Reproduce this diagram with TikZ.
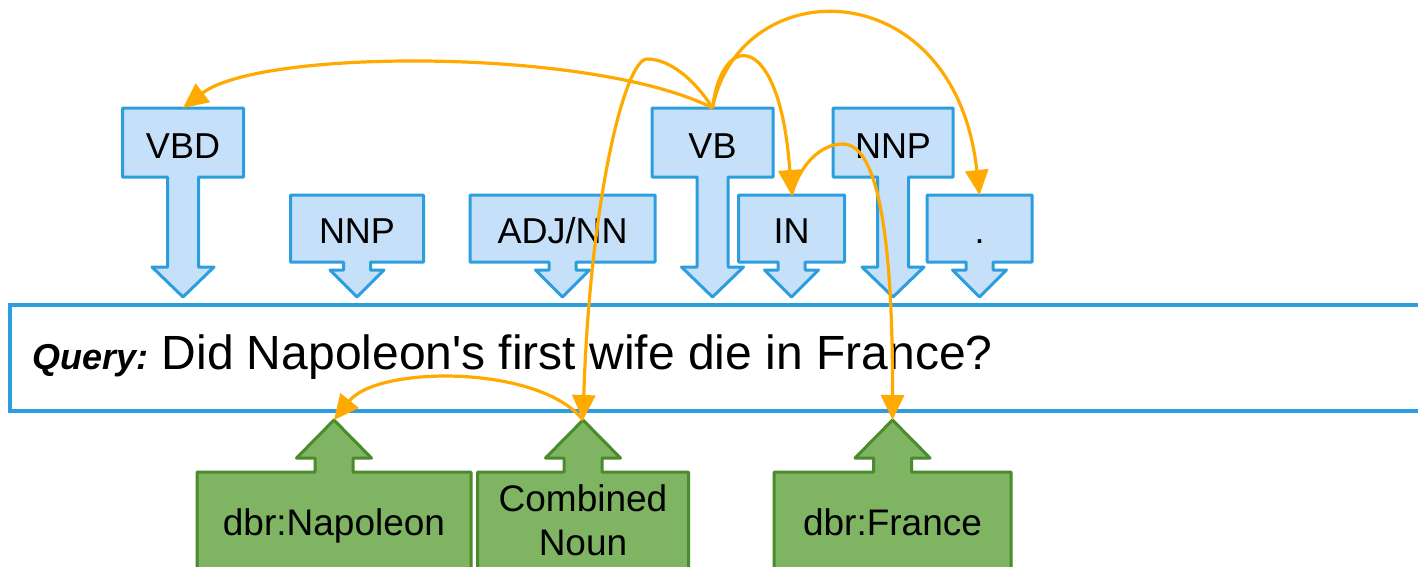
\documentclass[tikz,border=0pt]{standalone}
\usepackage{fontspec}
\setmainfont{Liberation Sans}
\usetikzlibrary{arrows.meta}
\definecolor{bfill}{RGB}{198,224,249}
\definecolor{bline}{RGB}{44,158,222}
\definecolor{gfill}{RGB}{126,180,98}
\definecolor{gline}{RGB}{74,139,44}
\definecolor{orng}{RGB}{255,170,0}
\newcommand\downcallout[9]{%
  \draw[bluecall] ({#2-#5},#3) -- ({#2+#5},#3) -- ({#2+#5},#4) -- ({#2+#6},#4) -- ({#2+#6},#8) -- ({#2+#7},#8) -- (#2,297) -- ({#2-#7},#8) -- ({#2-#6},#8) -- ({#2-#6},#4) -- ({#2-#5},#4) -- cycle;
  \coordinate (#1top) at (#2,#3);
  \coordinate (#1tip) at (#2,297);
  \node[lbl] (#1) at (#2,{#4-19}) {#9};
}
\newcommand\upcallout[3]{%
  \draw[greencall] ({#2-#3},600) -- ({#2-#3},472) -- ({#2-19},472) -- ({#2-19},458) -- ({#2-37.5},458) -- (#2,420) -- ({#2+37.5},458) -- ({#2+19},458) -- ({#2+19},472) -- ({#2+#3},472) -- ({#2+#3},600) -- cycle;
  \coordinate (#1tip) at (#2,420);
}
\begin{document}
\begin{tikzpicture}[x=1pt,y=-1pt,
  bluecall/.style={draw=bline,fill=bfill,line width=3pt,line join=round},
  greencall/.style={draw=gline,fill=gfill,line width=3pt,line join=round},
  querybox/.style={draw=bline,line width=3.3pt},
  lbl/.style={inner sep=0pt,font=\fontsize{36}{42}\selectfont,anchor=base},
  glbl/.style={inner sep=0pt,font=\fontsize{37}{44}\selectfont,align=center},
  link/.style={draw=orng,line width=3.2pt,-{Triangle[length=25pt,width=23pt]}}]
\useasboundingbox (0,0) rectangle (1418,566);
\clip (0,0) rectangle (1418,566);

% query box
\draw[querybox] (10,305) rectangle (1450,411);
\node[anchor=base west,inner sep=0pt,font=\fontsize{36}{42}\selectfont\bfseries\itshape] (qlabel) at (32,369) {Query:};
\node[anchor=base west,inner sep=0pt,font=\fontsize{48}{54}\selectfont] (qtext) at (161.5,369) {Did Napoleon\textquotesingle s first wife die in France?};

% POS callouts
\downcallout{vbd}{183}{108}{177}{60.5}{15.5}{31}{267}{VBD}
\downcallout{nnpa}{357}{195}{262}{66.5}{13.5}{27}{270}{NNP}
\downcallout{adj}{562.5}{195}{262}{92.5}{13.5}{27}{270}{ADJ/NN}
\downcallout{vb}{712.5}{108}{177}{60.5}{15.5}{31}{267}{VB}
\downcallout{in}{791.5}{195}{262}{53}{13.5}{27}{270}{IN}
\downcallout{nnpb}{893}{108}{177}{60}{15.5}{31}{267}{NNP}
\downcallout{dot}{979.5}{195}{262}{52.5}{13.5}{27}{270}{.}

% entity callouts
\upcallout{nap}{334}{137}
\upcallout{comb}{583}{105.5}
\upcallout{fra}{892.5}{118.5}
\node[glbl,anchor=base] (napl) at (334,535) {dbr:Napoleon};
\node[glbl] (combl) at (583,520.5) {Combined\\Noun};
\node[glbl,anchor=base] (fral) at (892.5,535) {dbr:France};

% dependency links
\draw[link] (vbtop) .. controls (595,48) and (261,48) .. (vbdtop);
\draw[link] (vbtop) .. controls (722,30) and (780,30) .. (intop);
\draw[link] (vbtop) .. controls (740,-30) and (955,-30) .. (dottop);
\draw[link] (vbtop) .. controls (695,80) and (670,59) .. (647,59) .. controls (625,59) and (590,200) .. (combtip);
\draw[link] (intop) .. controls (800,165) and (820,144) .. (843,144) .. controls (870,144) and (893,200) .. (fratip);
\draw[link] (combtip) .. controls (540,365) and (378,365) .. (naptip);
\end{tikzpicture}
\end{document}
